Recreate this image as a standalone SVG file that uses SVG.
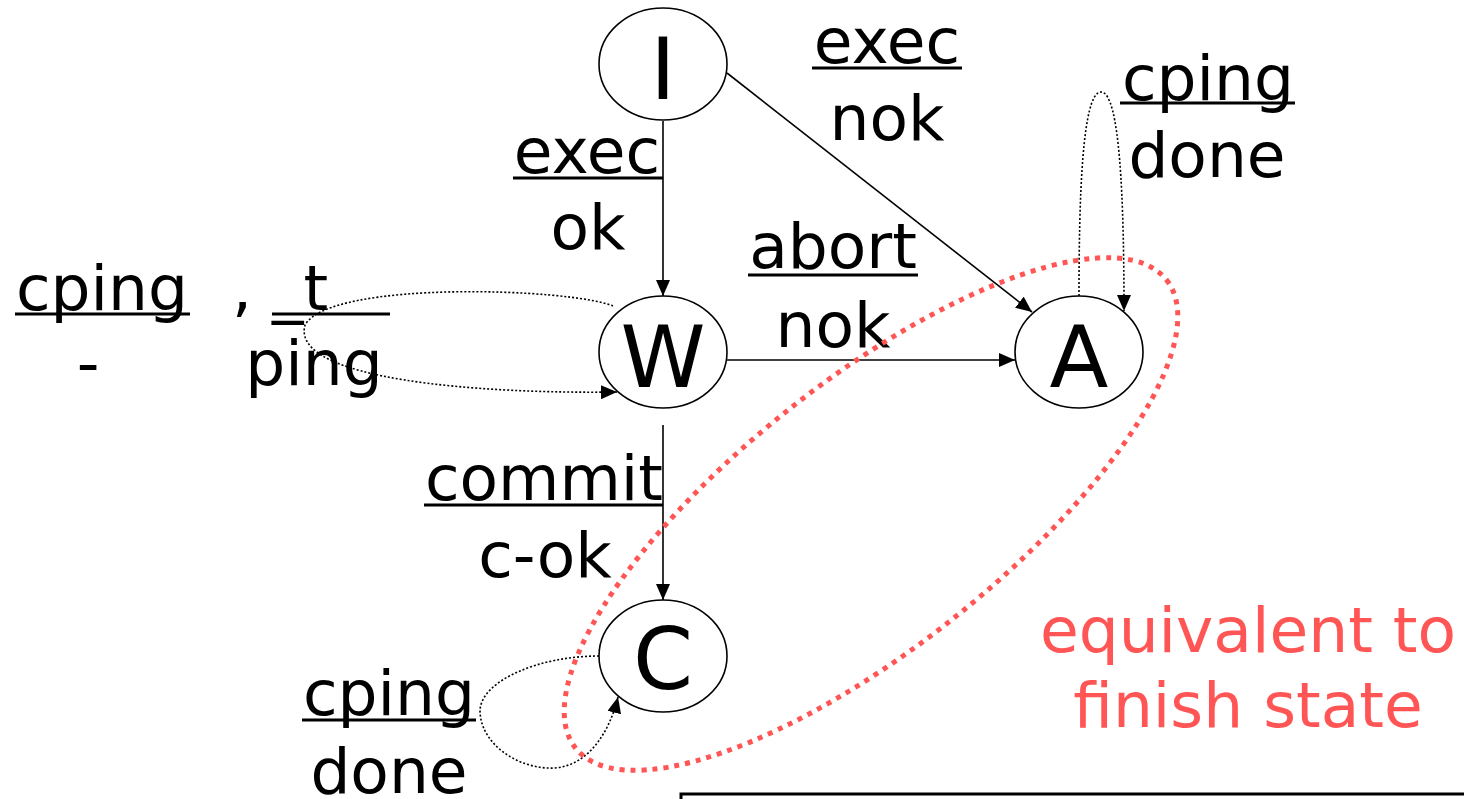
<svg xmlns="http://www.w3.org/2000/svg" width="1464" height="799" viewBox="0 0 1464 799">
  <style>
    .state { fill: #fff; stroke: #000; stroke-width: 1.6; }
    .letter { font-family: "DejaVu Sans", sans-serif; font-size: 86px; fill: #000; text-anchor: middle; }
    .lbl { font-family: "DejaVu Sans", sans-serif; font-size: 63px; fill: #000; text-anchor: middle; }
    .lbl-s { font-family: "DejaVu Sans", sans-serif; font-size: 63px; fill: #000; }
    .ul { stroke: #000; stroke-width: 3; }
    .edge { fill: none; stroke: #000; stroke-width: 1.6; marker-end: url(#arrow); }
    .loop { fill: none; stroke: #000; stroke-width: 1.6; stroke-dasharray: 2 2; marker-end: url(#arrow); }
    .note { font-family: "DejaVu Sans", sans-serif; font-size: 63px; fill: #ff5555; text-anchor: middle; }
  </style>
  <defs>
    <marker id="arrow" markerUnits="userSpaceOnUse" markerWidth="16" markerHeight="14" viewBox="0 0 16 14" refX="16" refY="7" orient="auto">
      <path d="M0,0 L16,7 L0,14 Z" fill="#000"/>
    </marker>
  </defs>

  <rect width="1464" height="799" fill="#fff"/>

  <!-- transitions -->
  <g id="connectors">
    <line class="edge" x1="663" y1="121" x2="663" y2="296"/>
    <line class="edge" x1="727" y1="73" x2="1032" y2="312"/>
    <line class="edge" x1="727" y1="360" x2="1015" y2="360"/>
    <line class="edge" x1="663" y1="425" x2="663" y2="600"/>
    <!-- self loops -->
    <path class="loop" d="M1079,296 C1079,200 1082,92 1101,92 C1120,92 1124,200 1124,311"/>
    <path class="loop" d="M613,306 C570,288 330,280 305,325 C290,380 480,394 617,392"/>
    <path class="loop" d="M599,656 C540,656 482,680 480,710 C480,745 520,770 555,768 C590,765 610,730 618,697"/>
  </g>

  <!-- states -->
  <g id="node-I">
    <ellipse class="state" cx="663" cy="64" rx="64" ry="56"/>
    <text class="letter" x="663" y="99">I</text>
  </g>
  <g id="node-W">
    <ellipse class="state" cx="663" cy="352" rx="64" ry="56"/>
    <text class="letter" x="663" y="387">W</text>
  </g>
  <g id="node-A">
    <ellipse class="state" cx="1079" cy="352" rx="64" ry="56"/>
    <text class="letter" x="1079" y="387">A</text>
  </g>
  <g id="node-C">
    <ellipse class="state" cx="663" cy="656" rx="64" ry="56"/>
    <text class="letter" x="663" y="689">C</text>
  </g>

  <!-- transition labels -->
  <g id="labels">
    <text class="lbl" x="887" y="63">exec</text>
    <line class="ul" x1="812" y1="68" x2="962" y2="68"/>
    <text class="lbl" x="887" y="140">nok</text>

    <text class="lbl" x="587" y="173">exec</text>
    <line class="ul" x1="513" y1="178" x2="663" y2="178"/>
    <text class="lbl" x="588" y="249">ok</text>

    <text class="lbl" x="833" y="268">abort</text>
    <line class="ul" x1="748" y1="275" x2="918" y2="275"/>
    <text class="lbl" x="833" y="347">nok</text>

    <text class="lbl" x="1208" y="100">cping</text>
    <line class="ul" x1="1120" y1="103" x2="1295" y2="103"/>
    <text class="lbl" x="1207" y="177">done</text>

    <text class="lbl" x="102" y="310">cping</text>
    <line class="ul" x1="15" y1="314" x2="190" y2="314"/>
    <text class="lbl-s" x="232" y="310">,</text>
    <text class="lbl-s" x="272" y="310">_t</text>
    <line class="ul" x1="272" y1="314" x2="390" y2="314"/>
    <text class="lbl" x="88" y="385">-</text>
    <text class="lbl" x="314" y="385">ping</text>

    <text class="lbl" x="544" y="500">commit</text>
    <line class="ul" x1="424" y1="505" x2="663" y2="505"/>
    <text class="lbl" x="545" y="577">c-ok</text>

    <text class="lbl" x="389" y="715">cping</text>
    <line class="ul" x1="302" y1="720" x2="476" y2="720"/>
    <text class="lbl" x="389" y="793">done</text>
  </g>

  <!-- grouping of final-like states -->
  <g id="equivalence">
    <ellipse cx="871" cy="514" rx="377" ry="133" transform="rotate(-38.4 871 514)" fill="none" stroke="#ff5555" stroke-width="5" stroke-dasharray="5 6"/>
    <text class="note" x="1248" y="652">equivalent to</text>
    <text class="note" x="1248" y="727">finish state</text>
  </g>

  <!-- frame edge at bottom -->
  <path d="M681,799 L681,794 L1464,794" fill="none" stroke="#000" stroke-width="3"/>
</svg>
